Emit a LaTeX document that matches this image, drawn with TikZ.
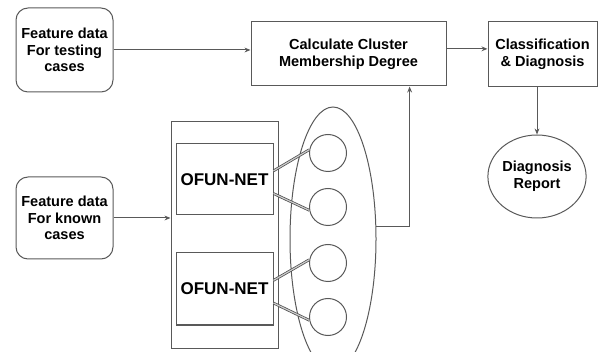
\documentclass[tikz,border=0pt]{standalone}
\usepackage{fontspec}
\setmainfont{Liberation Sans}
\usetikzlibrary{arrows.meta,shapes.geometric}
\begin{document}
\begin{tikzpicture}[x=0.75pt,y=-0.75pt,
  ln/.style={draw=black!65,line width=0.75pt},
  arr/.style={ln,-{Stealth[length=4.5pt,width=3.6pt]}},
  txt/.style={font=\fontsize{10.9}{12.6}\selectfont\bfseries,align=center,text=black},
  rbox/.style={ln,txt,rectangle,rounded corners=9pt,inner sep=0pt},
  sbox/.style={ln,txt,rectangle,inner sep=0pt},
  netbox/.style={ln,rectangle,inner sep=0pt,font=\fontsize{12.75}{14}\selectfont\bfseries,minimum width=72.75pt},
  unit/.style={ln,circle,minimum size=27.75pt,inner sep=0pt},
  link/.style={draw=black!70,line width=0.55pt,double=black!20,double distance=0.9pt}
]
\useasboundingbox (0,0) rectangle (599,352);
\clip (0,0) rectangle (599,352);
\node[rbox,minimum width=72.75pt,minimum height=63pt] (test) at (64.5,50) {Feature data\\For testing\\cases};
\node[rbox,minimum width=72.75pt,minimum height=61.5pt] (known) at (64.5,218) {Feature data\\For known\\cases};
\node[sbox,minimum width=146.25pt,minimum height=48pt] (calc) at (348.5,54) {Calculate Cluster\\Membership Degree};
\node[sbox,minimum width=81.75pt,minimum height=48.75pt] (class) at (542.5,54.5) {Classification\\\& Diagnosis};
\node[ln,txt,ellipse,minimum width=72.75pt,minimum height=62.25pt,inner sep=0pt] (report) at (537,176.5) {Diagnosis\\Report};
\node[ln,rectangle,minimum width=80.25pt,minimum height=169.5pt] (outer) at (224.5,235) {};
\node[netbox,minimum height=53.25pt] (n1) at (224.5,179.5) {OFUN-NET};
\node[netbox,minimum height=54pt] (n2) at (224.5,289) {OFUN-NET};
\node[ln,ellipse,minimum width=64.5pt,minimum height=198pt,inner sep=0pt] (el) at (333,239) {};
\node[unit] (c1) at (328,153) {};
\node[unit] (c2) at (328,207) {};
\node[unit] (c3) at (328,263) {};
\node[unit] (c4) at (328,317) {};
\draw[link] (n1.10) -- (c1.170);
\draw[link] (n1.-16) -- (c2.190);
\draw[link] (n2.10) -- (c3.170);
\draw[link] (n2.-16) -- (c4.190);
\draw[arr] (test.east) -- (test.east -| calc.west);
\draw[arr] (calc.3.5) -- (calc.3.5 -| class.west);
\draw[arr] (report.north |- class.south) -- (report.north);
\draw[arr] (known.east) -- (known.east -| outer.west);
\draw[arr] (el.16) -| (calc.-28.3);
\end{tikzpicture}
\end{document}
